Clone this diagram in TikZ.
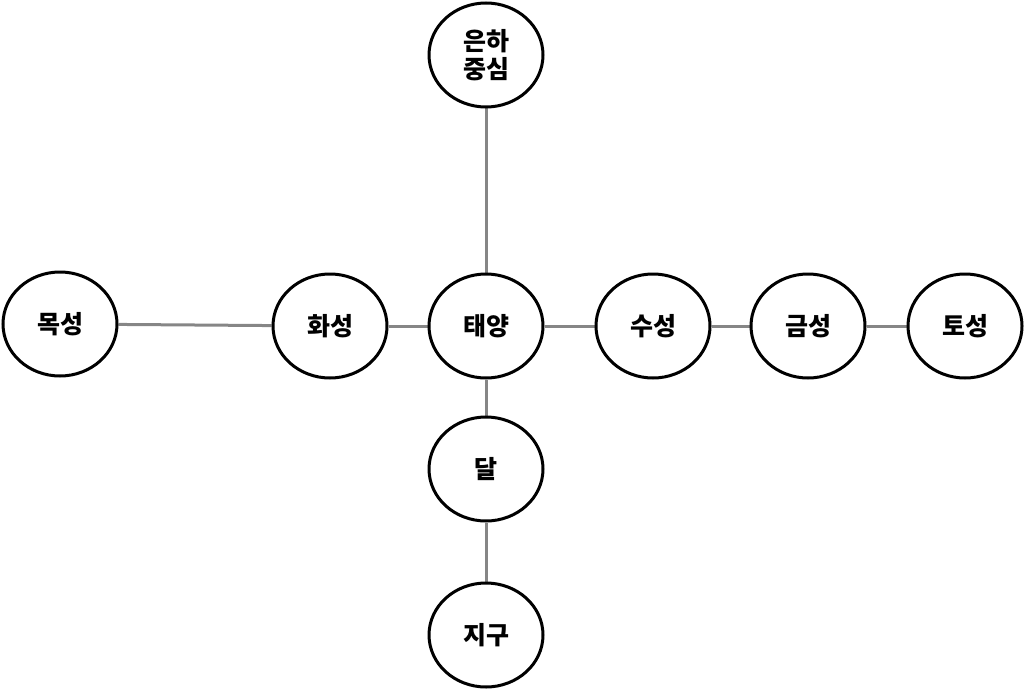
\documentclass[tikz,border=0pt]{standalone}
\usepackage{fontspec}
\newfontfamily\kr{Noto Sans CJK KR}
\usetikzlibrary{shapes.geometric,backgrounds}
\begin{document}
\begin{tikzpicture}[x=1pt,y=-1pt,
  body/.style={ellipse,draw=black,line width=3pt,fill=white,minimum width=114pt,minimum height=104pt,inner sep=0pt,font=\kr\bfseries\fontsize{25}{29}\selectfont,align=center},
  link/.style={draw=gray!95,line width=3pt}]
\useasboundingbox (0,0) rectangle (1024,690);
\node[body] (galaxy) at (486,55) {은하\\[-1pt]중심};
\node[body] (sun) at (486,326) {태양};
\node[body] (mars) at (330,326) {화성};
\node[body] (jupiter) at (60,324) {목성};
\node[body] (mercury) at (653,326) {수성};
\node[body] (venus) at (808,326) {금성};
\node[body] (saturn) at (965,326) {토성};
\node[body] (moon) at (486,469) {달};
\node[body] (earth) at (486,635) {지구};
\begin{scope}[on background layer]
\draw[link] (sun) -- (galaxy);
\draw[link] (sun) -- (moon);
\draw[link] (moon) -- (earth);
\draw[link] (jupiter) -- (mars);
\draw[link] (mars) -- (sun);
\draw[link] (sun) -- (mercury);
\draw[link] (mercury) -- (venus);
\draw[link] (venus) -- (saturn);
\end{scope}
\end{tikzpicture}
\end{document}
